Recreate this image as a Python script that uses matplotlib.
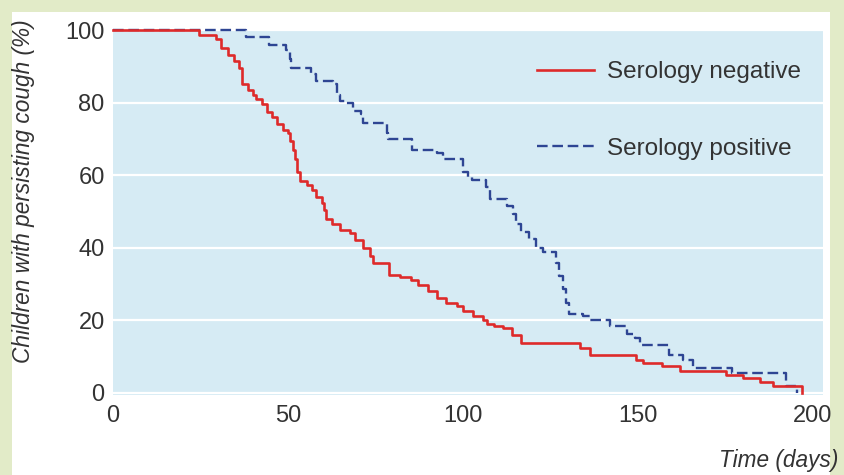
import matplotlib
matplotlib.use("Agg")
import matplotlib.pyplot as plt
from matplotlib.patches import Rectangle

# ---- data ----
neg_days = [0, 24.5, 29.5, 31, 33, 34.5, 36, 37, 38.5, 40, 41, 42.5, 44, 45.5, 47, 48.5, 50, 50.7, 51.5, 52,
            52.7, 53.4, 55.3, 56.8, 58, 59.6, 60.4, 61, 62.5, 64.9, 67.7, 69.1, 71.5, 73.4, 74.4, 79, 82, 85.3,
            87.2, 90.1, 92.5, 95.3, 98.2, 100.1, 103, 105.8, 106.8, 109, 111.4, 113.9, 116.5, 133.4, 136.3,
            149.6, 151.5, 156.8, 162, 175.3, 180.1, 184.9, 188.7, 196.8]
neg_pct = [100, 98.5, 97.5, 95, 93, 91.5, 89.5, 85, 83.5, 82, 81, 79.5, 77.5, 76, 74, 72.5, 71.5, 69.5, 67, 64.5,
           61, 58.5, 57.3, 56, 54, 52.4, 50.5, 48, 46.5, 45, 44, 42.2, 40, 37.7, 35.8, 32.6, 32, 31,
           29.8, 28, 26.2, 24.8, 23.9, 22.5, 21.1, 20.2, 19, 18.5, 18, 16, 13.7, 12.4, 10.5,
           9.1, 8.2, 7.5, 5.9, 5, 4, 3, 1.8, 0]

pos_days = [0, 38, 44.5, 49.5, 50.5, 51, 56.5, 58, 63, 64, 64.9, 66.3, 68.7, 71, 71.5, 78.2, 78.7, 85.5, 92.5,
            94.4, 100, 101.5, 102.5, 106.5, 107.7, 112.5, 114.4, 115.3, 116.5, 119, 121, 122.9, 126.5, 127.5,
            128.5, 129.5, 130.2, 134.2, 136.3, 142, 146.8, 149.2, 150.5, 158.8, 163, 165.8, 177, 192.2, 195.5]
pos_pct = [100, 98, 96, 94.5, 92, 89.5, 88, 86, 85, 82, 80.5, 80, 77.8, 76.8, 74.3, 71.5, 70, 67, 66.2,
           64.5, 61, 59.5, 58.6, 56.6, 53.3, 51.5, 49.2, 46.4, 44.3, 42.5, 40, 38.8, 35.8, 32.2,
           28.5, 24.8, 21.8, 21.2, 20, 18.3, 16.2, 15, 13.3, 10.5, 9.1, 6.8, 5.4, 2, 0]

x_ticks = [0, 50, 100, 150, 200]
y_ticks = [0, 20, 40, 60, 80, 100]
label_neg = "Serology negative"
label_pos = "Serology positive"

# ---- style ----
plt.rcParams['font.family'] = ['Liberation Sans', 'DejaVu Sans']
W, H = 845, 475
fig = plt.figure(figsize=(W / 100, H / 100), dpi=100, facecolor='#e2ebc8')
fig.patches.append(Rectangle((12 / W, 0), 818 / W, 463 / H, transform=fig.transFigure,
                             facecolor='white', edgecolor='none', zorder=-10))

ax = fig.add_axes([113 / W, 1 - 395 / H, 710 / W, 365 / H])
ax.set_zorder(1)
ax.set_facecolor('#d6ebf4')
for s in ax.spines.values():
    s.set_visible(False)
ax.set_xlim(0, 202.9)
ax.set_ylim(-0.6, 100)
ax.set_xticks(x_ticks)
ax.set_yticks(y_ticks)
ax.tick_params(length=0, labelsize=17, colors='#333333')
ax.tick_params(axis='y', pad=6)
ax.tick_params(axis='x', pad=7)
ax.yaxis.grid(True, color='white', lw=1.6)
ax.set_axisbelow(True)

ax.step(pos_days, pos_pct, where='post', color='#2e4593', lw=1.7,
        linestyle=(0, (4.5, 2)), label=label_pos, zorder=3, clip_on=False)
ax.step(neg_days, neg_pct, where='post', color='#de2a2a', lw=1.9,
        label=label_neg, zorder=4, clip_on=False)

handles, labels = ax.get_legend_handles_labels()
leg = ax.legend(handles[::-1], labels[::-1], loc='upper left', bbox_to_anchor=(0.597, 0.915),
                frameon=False, fontsize=17.5, handlelength=2.35, handletextpad=0.55,
                labelspacing=2.25, borderpad=0, borderaxespad=0)
for t in leg.get_texts():
    t.set_color('#333333')

fig.text(24 / W, 1 - 191 / H, "Children with persisting cough (%)", rotation=90,
         ha='center', va='center', fontsize=16.3, style='italic', color='#333333')
fig.text(838 / W, 1 - 460 / H, "Time (days)", ha='right', va='center',
         fontsize=16.3, style='italic', color='#333333')

fig.savefig('out.png', dpi=100, facecolor=fig.get_facecolor())
